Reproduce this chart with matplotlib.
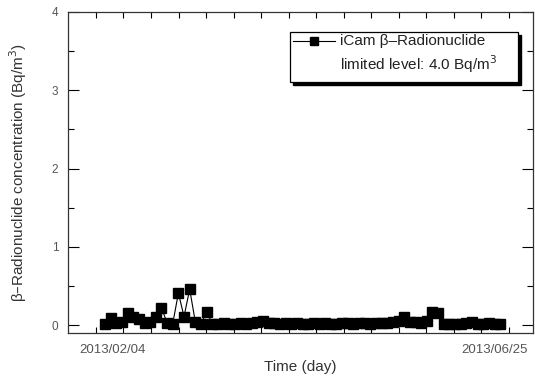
import matplotlib
matplotlib.use("Agg")
import matplotlib.pyplot as plt
import matplotlib.dates as mdates
from matplotlib.patches import Rectangle
from matplotlib.lines import Line2D
import pandas as pd
import numpy as np

plt.rcParams['font.family'] = ['Liberation Sans', 'DejaVu Sans']

start_date = "2013-02-04"
n_samples = 71
sample_step = "2D"
concentration = [
    0.01, 0.09, 0.03, 0.04, 0.16, 0.10, 0.08, 0.03, 0.04, 0.10,
    0.22, 0.03, 0.02, 0.41, 0.11, 0.46, 0.04, 0.02, 0.17, 0.02,
    0.02, 0.03, 0.02, 0.02, 0.03, 0.02, 0.03, 0.04, 0.05, 0.03,
    0.03, 0.02, 0.03, 0.02, 0.03, 0.02, 0.01, 0.03, 0.02, 0.03,
    0.02, 0.02, 0.03, 0.03, 0.02, 0.03, 0.03, 0.02, 0.03, 0.03,
    0.03, 0.04, 0.05, 0.11, 0.04, 0.04, 0.03, 0.05, 0.17, 0.15,
    0.02, 0.01, 0.02, 0.01, 0.03, 0.04, 0.02, 0.01, 0.03, 0.02,
    0.01,
]
tick_labels = ["2013/02/04", "2013/06/25"]
legend_series = "iCam β–Radionuclide"
legend_limit = "limited level: 4.0 Bq/m$^3$"

dates = pd.date_range(start_date, periods=n_samples, freq=sample_step)
x = mdates.date2num(dates)
x0 = x[0]

fig = plt.figure(figsize=(5.35, 3.76), dpi=100)
ax = fig.add_axes([68/535, 43/376, 465/535, 321/376])

ax.plot(x, concentration, color='black', lw=0.8, marker='s', ms=6.8,
        markerfacecolor='black', markeredgecolor='black')

ax.set_xlim(x0 - 13.1, x0 + 151.6)
ax.set_ylim(-0.1, 4.0)

# y ticks
ax.set_yticks([0, 1, 2, 3, 4])
ax.set_yticks([0.5, 1.5, 2.5, 3.5], minor=True)
ax.tick_params(axis='y', which='major', direction='in', length=8, width=0.8,
               right=True, labelsize=8.5, labelcolor='#555555', pad=7)
ax.tick_params(axis='y', which='minor', direction='in', length=4, width=0.8,
               right=True)

# x ticks: unlabeled inward marks, labels placed separately
ax.set_xticks(x0 + np.linspace(-3.2, 143.1, 16), minor=True)
ax.set_xticks([x0 + 2.5, x0 + 138.0])
ax.set_xticklabels(tick_labels)
ax.tick_params(axis='x', which='major', length=0, labelsize=9.5,
               labelcolor='#555555', pad=8)
ax.tick_params(axis='x', which='minor', direction='in', length=4, width=0.8,
               top=True)

for s in ax.spines.values():
    s.set_linewidth(0.9)
    s.set_color('#333333')

ax.set_xlabel("Time (day)", fontsize=11, color='#333333', labelpad=3)
ax.set_ylabel("β–Radionuclide concentration (Bq/m$^3$)", fontsize=11,
              color='#333333', labelpad=16)

# custom legend box with black drop shadow
bx0, by0, bw, bh = 0.477, 0.782, 0.491, 0.156
ax.add_patch(Rectangle((bx0 + 0.0065, by0 - 0.0093), bw, bh, transform=ax.transAxes,
                       facecolor='black', edgecolor='black', zorder=5, clip_on=False))
ax.add_patch(Rectangle((bx0, by0), bw, bh, transform=ax.transAxes,
                       facecolor='white', edgecolor='black', lw=0.9, zorder=6, clip_on=False))
ax.add_line(Line2D([0.484, 0.574], [0.910, 0.910], transform=ax.transAxes,
                   color='black', lw=0.8, zorder=7))
ax.add_line(Line2D([0.529], [0.910], transform=ax.transAxes, marker='s', ms=6,
                   color='black', zorder=7))
ax.text(0.585, 0.910, legend_series, transform=ax.transAxes, fontsize=11,
        va='center', ha='left', color='#222222', zorder=8)
ax.text(0.585, 0.838, legend_limit, transform=ax.transAxes, fontsize=11,
        va='center', ha='left', color='#222222', zorder=8)

fig.savefig("out.png", dpi=100)
